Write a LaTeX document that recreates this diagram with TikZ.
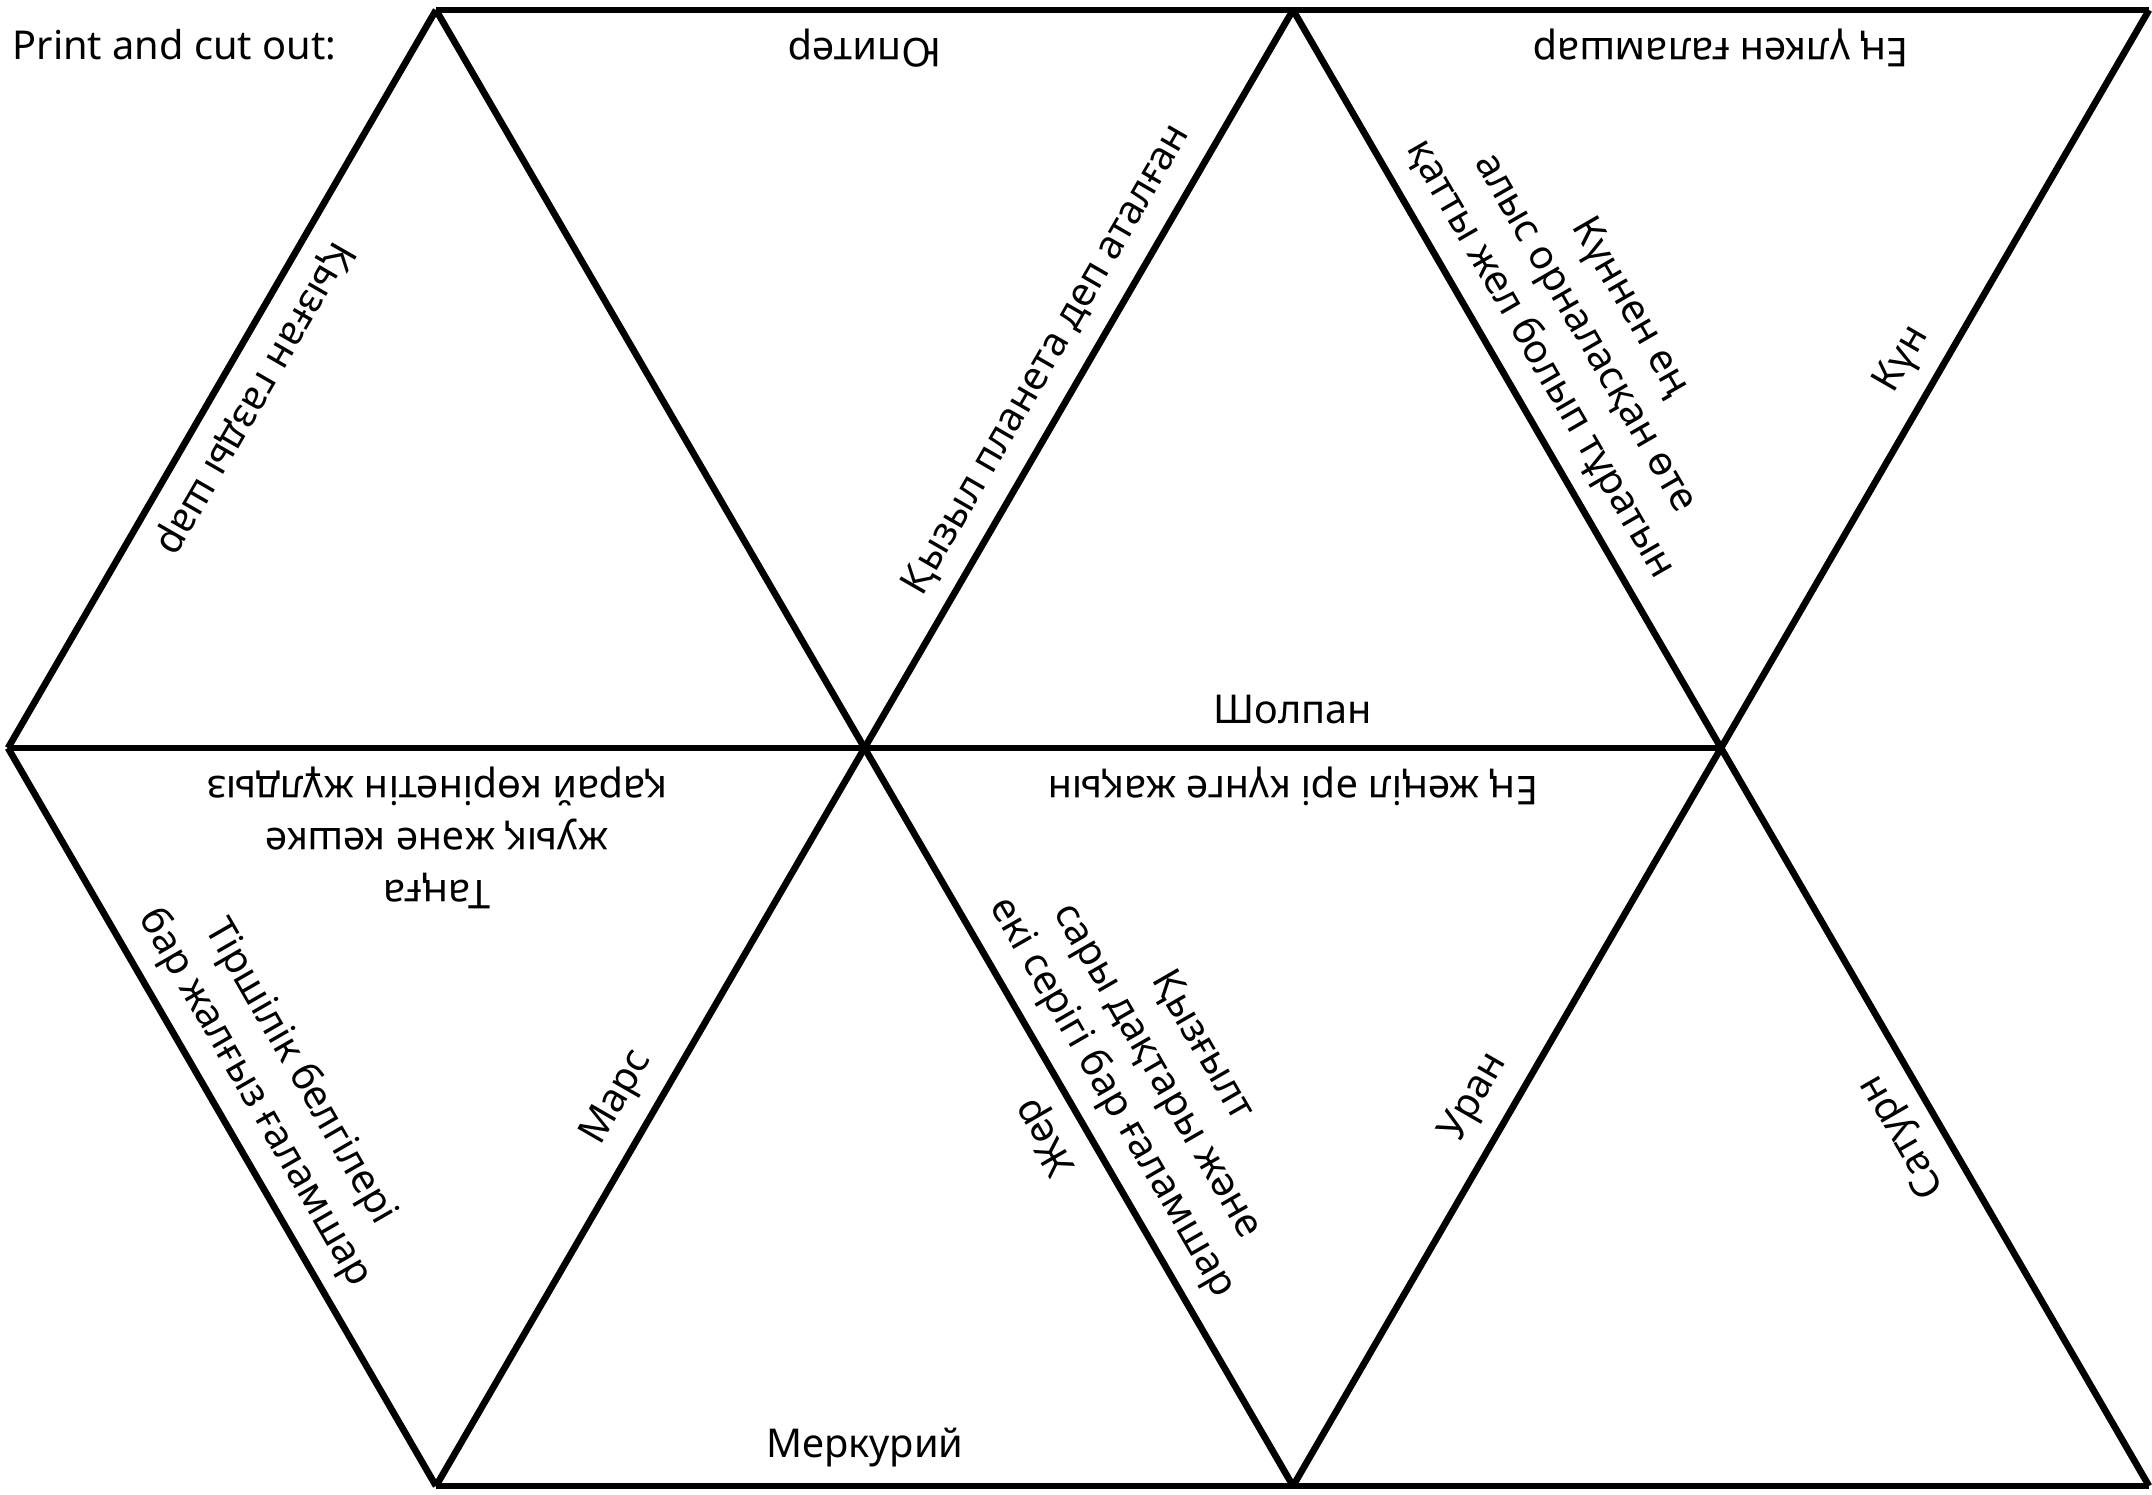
\documentclass[tikz,border=0pt]{standalone}
\usepackage{fontspec}
\setmainfont{Noto Sans}
\usetikzlibrary{calc}

\begin{document}
\begin{tikzpicture}[x=0.01cm,y=-0.01cm]
% Styles
\tikzset{
  cut/.style={line width=1.9pt,black},
  clue/.style={font=\fontsize{11.3}{14.8}\selectfont,align=center,inner sep=0pt},
}
\useasboundingbox (0,0) rectangle (2152,1495);

% Corners of the triangles
\coordinate (A1) at (436,10);
\coordinate (A2) at (1293,10);
\coordinate (A3) at (2149,10);
\coordinate (B0) at (8,748);
\coordinate (B1) at (865,748);
\coordinate (B2) at (1721,748);
\coordinate (C1) at (436,1486);
\coordinate (C2) at (1293,1486);
\coordinate (C3) at (2149,1486);

% Cut lines
\draw[cut] (A1) -- (A3);
\draw[cut] (B0) -- (B2);
\draw[cut] (C1) -- (C3);
\draw[cut] (B0) -- (A1);
\draw[cut] (B0) -- (C1);
\draw[cut] (A1) -- (C2);
\draw[cut] (C1) -- (A2);
\draw[cut] (A2) -- (C3);
\draw[cut] (C2) -- (A3);

% Header
\node[clue,anchor=base west] (hdr) at (12,60) {Print and cut out:};

% Top row
\node[clue,rotate=-120] (gas) at (254,398) {Қызған газды шар};
\node[clue,rotate=180] (jupiter) at (865,48) {Юпитер};
\node[clue,rotate=60] (redplanet) at (1047,360) {Қызыл планета деп аталған};
\node[clue] (venus) at (1293,710) {Шолпан};
\node[clue,rotate=180] (largest) at (1721,48) {Ең үлкен ғаламшар};
\node[clue,rotate=-60] (farthest) at (1584,334) {Күннен ең\\алыс орналасқан өте\\қатты жел болып тұратын};
\node[clue,rotate=60] (sun) at (1903,360) {Күн};

% Bottom row
\node[clue,rotate=180] (star) at (437,838) {Таңға\\жуық және кешке\\қарай көрінетін жұлдыз};
\node[clue,rotate=-60] (life) at (277,1085) {Тіршілік белгілері\\бар жалғыз ғаламшар};
\node[clue,rotate=60] (mars) at (618,1098) {Марс};
\node[clue] (mercury) at (865,1448) {Меркурий};
\node[clue,rotate=120] (earth) at (1047,1136) {Жер};
\node[clue,rotate=180] (lightest) at (1293,786) {Ең жеңіл әрі күнге жақын};
\node[clue,rotate=-60] (spots) at (1156,1072) {Қызғылт\\сары дақтары және\\екі серігі бар ғаламшар};
\node[clue,rotate=60] (uranus) at (1475,1098) {Уран};
\node[clue,rotate=120] (saturn) at (1903,1136) {Сатурн};
\end{tikzpicture}
\end{document}
